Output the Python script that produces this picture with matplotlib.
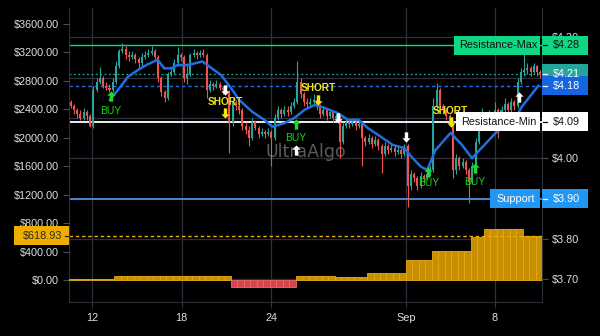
import matplotlib
matplotlib.use('Agg')
import matplotlib.pyplot as plt
import numpy as np
from matplotlib.path import Path
from matplotlib.patches import Rectangle
from matplotlib.lines import Line2D

plt.rcParams['font.family'] = ['Liberation Sans', 'DejaVu Sans']

# price candles (each open is the previous close)
first_open = 4.14
closes = [4.13, 4.12, 4.11, 4.10, 4.115, 4.105, 4.08, 4.17, 4.19, 4.20,
          4.18, 4.175, 4.17, 4.19, 4.23, 4.265, 4.27, 4.255, 4.25, 4.255,
          4.245, 4.235, 4.25, 4.255, 4.26, 4.265, 4.25, 4.20, 4.165, 4.15,
          4.21, 4.215, 4.235, 4.255, 4.25, 4.20, 4.21, 4.255, 4.26, 4.255,
          4.262, 4.255, 4.17, 4.185, 4.18, 4.185, 4.175, 4.17, 4.165, 4.09,
          4.14, 4.13, 4.12, 4.08, 4.07, 4.05, 4.09, 4.075, 4.06, 4.065,
          4.06, 4.065, 4.05, 4.10, 4.12, 4.11, 4.12, 4.115, 4.13, 4.14,
          4.19, 4.16, 4.14, 4.135, 4.14, 4.145, 4.13, 4.11, 4.12, 4.105,
          4.115, 4.10, 4.105, 4.04, 4.08, 4.09, 4.085, 4.09, 4.08, 4.085,
          4.05, 4.04, 4.05, 4.035, 4.045, 4.03, 4.01, 4.03, 4.02, 4.025,
          4.015, 4.02, 4.01, 4.03, 3.93, 3.96, 3.95, 3.93, 3.955, 3.95,
          3.96, 3.97, 4.13, 4.17, 4.13, 4.12, 4.105, 4.09, 3.97, 4.00,
          3.98, 3.99, 3.97, 3.94, 3.98, 4.04, 4.08, 4.10, 4.09, 4.11,
          4.10, 4.12, 4.09, 4.12, 4.135, 4.12, 4.14, 4.13, 4.19, 4.215,
          4.22, 4.225, 4.215, 4.23, 4.215, 4.21]
highs = [4.145, 4.135, 4.125, 4.12, 4.125, 4.12, 4.11, 4.18, 4.20, 4.226,
         4.205, 4.19, 4.185, 4.20, 4.24, 4.27, 4.285, 4.278, 4.265, 4.265,
         4.262, 4.25, 4.26, 4.265, 4.27, 4.278, 4.27, 4.255, 4.205, 4.17,
         4.215, 4.225, 4.245, 4.276, 4.262, 4.255, 4.235, 4.262, 4.27, 4.265,
         4.268, 4.272, 4.26, 4.195, 4.19, 4.195, 4.19, 4.18, 4.178, 4.17,
         4.15, 4.145, 4.135, 4.125, 4.09, 4.08, 4.10, 4.095, 4.08, 4.075,
         4.07, 4.075, 4.07, 4.11, 4.13, 4.125, 4.13, 4.13, 4.14, 4.15,
         4.24, 4.20, 4.165, 4.15, 4.15, 4.16, 4.15, 4.135, 4.13, 4.125,
         4.12, 4.12, 4.115, 4.11, 4.09, 4.10, 4.095, 4.10, 4.095, 4.095,
         4.09, 4.055, 4.06, 4.055, 4.055, 4.05, 4.035, 4.04, 4.035, 4.035,
         4.03, 4.03, 4.025, 4.035, 4.035, 3.97, 3.965, 3.955, 3.965, 3.96,
         3.97, 3.98, 4.15, 4.186, 4.175, 4.135, 4.125, 4.11, 4.095, 4.01,
         4.005, 4.00, 3.995, 3.975, 3.99, 4.05, 4.09, 4.125, 4.11, 4.12,
         4.115, 4.14, 4.125, 4.13, 4.15, 4.14, 4.15, 4.145, 4.20, 4.225,
         4.26, 4.235, 4.23, 4.235, 4.232, 4.22]
lows = [4.125, 4.11, 4.10, 4.095, 4.095, 4.095, 4.077, 4.075, 4.165, 4.185,
        4.175, 4.17, 4.165, 4.165, 4.185, 4.225, 4.26, 4.245, 4.24, 4.245,
        4.235, 4.225, 4.23, 4.245, 4.25, 4.255, 4.245, 4.19, 4.155, 4.14,
        4.145, 4.205, 4.21, 4.23, 4.24, 4.19, 4.185, 4.205, 4.25, 4.245,
        4.25, 4.25, 4.15, 4.165, 4.17, 4.175, 4.17, 4.16, 4.16, 4.013,
        4.08, 4.12, 4.11, 4.07, 4.06, 4.03, 4.045, 4.07, 4.05, 4.055,
        4.05, 4.055, 3.98, 4.045, 4.095, 4.10, 4.105, 4.105, 4.11, 4.125,
        4.135, 4.15, 4.13, 4.125, 4.13, 4.135, 4.12, 4.10, 4.105, 4.095,
        4.10, 4.09, 4.095, 4.00, 4.035, 4.075, 4.075, 4.08, 4.07, 4.075,
        3.98, 4.03, 4.035, 4.025, 4.03, 4.02, 3.963, 4.005, 4.01, 4.015,
        4.005, 4.01, 4.00, 4.005, 3.88, 3.92, 3.94, 3.92, 3.925, 3.94,
        3.945, 3.955, 3.965, 4.12, 4.125, 4.11, 4.095, 4.08, 3.95, 3.96,
        3.97, 3.975, 3.96, 3.89, 3.935, 3.975, 4.035, 4.075, 4.08, 4.085,
        4.09, 4.095, 4.05, 4.085, 4.11, 4.11, 4.115, 4.12, 4.125, 4.185,
        4.205, 4.21, 4.205, 4.21, 4.205, 4.20]

# trend line
ma_idx = [12.0, 14.6, 17.7, 20.8, 23.8, 26.9, 28.9, 31.0, 33.0, 36.1,
          40.7, 42.9, 46.5, 49.6, 52.1, 56.1, 59.8, 62.3, 66.0, 69.1,
          72.2, 75.3, 78.3, 82.5, 85.6, 89.0, 91.7, 95.8, 99.4, 103.0,
          105.6, 108.1, 110.1, 112.6, 117.3, 120.8, 123.9, 125.4, 131.1, 137.3,
          139.3, 144.4]
ma_val = [4.144, 4.169, 4.202, 4.219, 4.233, 4.244, 4.223, 4.223, 4.231, 4.231,
          4.24, 4.227, 4.206, 4.173, 4.144, 4.115, 4.095, 4.078, 4.087, 4.10,
          4.12, 4.132, 4.125, 4.112, 4.095, 4.095, 4.075, 4.053, 4.033, 4.025,
          4.0, 3.979, 3.971, 4.02, 4.063, 4.033, 4.0, 4.013, 4.062, 4.10,
          4.128, 4.18]

# oscillator histogram (level, number of bars at that level)
hist_levels = [8, 56, -98, 56, 42, 98, 281, 408, 605, 717, 618.93]
hist_runs = [7, 18, 10, 6, 5, 6, 4, 6, 2, 6, 3]

# signals
buy_idx = [12.4, 69.6, 110.4, 124.7]
buy_arrow = [4.154, 4.085, 3.966, 3.976]
buy_text = [4.118, 4.05, 3.938, 3.942]
short_idx = [47.7, 76.4, 117.3]
short_arrow = [4.112, 4.144, 4.09]
short_text = [4.14, 4.174, 4.118]
exit_down_idx = [47.7, 82.5, 103.5]
exit_down_val = [4.169, 4.10, 4.053]
exit_up_idx = [69.6, 138.3]
exit_up_val = [4.02, 4.152]

# levels
res_max = 4.28
res_min = 4.09
support = 3.90

x_ticks = [6.6, 34.3, 62.0, 103.5, 130.9]
x_labels = ['12', '18', '24', 'Sep', '8']
price_ticks = [3.70, 3.80, 3.90, 4.00, 4.10, 4.20, 4.30]
price_labels = ['$3.70', '$3.80', '', '$4.00', '', '', '$4.30']

GRID = '#2d3039'
TXT = '#dcdfe6'

fig = plt.figure(figsize=(6, 3.36), dpi=100, facecolor='black')
ax = fig.add_axes([69 / 600, 1 - 302 / 336, 473 / 600, 294 / 336])
ax.set_facecolor('black')
ax2 = ax.twinx()

n = len(closes)
closes = np.array(closes)
opens = np.r_[first_open, closes[:-1]]
idx = np.arange(n)
cols = np.where(closes >= opens, '#26a69a', '#ef5350')
ax.vlines(idx, lows, highs, colors=cols, lw=0.8, zorder=3)
ax.bar(idx, np.maximum(np.abs(closes - opens), 0.002), bottom=np.minimum(opens, closes),
       width=0.62, color=cols, linewidth=0, zorder=3)

ax.plot(ma_idx, ma_val, color='#1f6fe0', lw=1.8, zorder=4, solid_capstyle='round')

# horizontal levels
ax.axhline(res_max, color='#00e676', lw=1.0, zorder=2)
ax.axhline(closes[-1], color='#26a69a', lw=0.9, ls=(0, (1.5, 2)), zorder=2)
ax.axhline(ma_val[-1], color='#1f6fe0', lw=1.0, ls=(0, (2.5, 2)), zorder=2)
ax.axhline(res_min, color='white', lw=1.3, zorder=2)
ax.axhline(support, color='#4a90d9', lw=1.3, zorder=2)

# signal arrows
up = Path([(0, 1), (-0.8, 0.15), (-0.33, 0.15), (-0.33, -1), (0.33, -1),
           (0.33, 0.15), (0.8, 0.15), (0, 1)], closed=True)
down = Path([(0, -1), (-0.8, -0.15), (-0.33, -0.15), (-0.33, 1), (0.33, 1),
             (0.33, -0.15), (0.8, -0.15), (0, -1)], closed=True)
ax.scatter(buy_idx, buy_arrow, marker=up, s=55, color='#1fdc1f', linewidths=0, zorder=6)
ax.scatter(short_idx, short_arrow, marker=down, s=55, color='#f2e60c', linewidths=0, zorder=6)
ax.scatter(exit_down_idx, exit_down_val, marker=down, s=55, color='white', linewidths=0, zorder=6)
ax.scatter(exit_up_idx, exit_up_val, marker=up, s=55, color='white', linewidths=0, zorder=6)
for x, y in zip(buy_idx, buy_text):
    ax.text(x, y, 'BUY', ha='center', va='center', color='#19d119', fontsize=7.5, zorder=6)
for x, y in zip(short_idx, short_text):
    ax.text(x, y, 'SHORT', ha='center', va='center', color='#efe31a', fontsize=7.3,
            fontweight='bold', zorder=6)

ax.text(0.5, 0.51, 'UltraAlgo', transform=ax.transAxes, ha='center', va='center',
        fontsize=12.5, color='#5a5a5a', family='DejaVu Sans', zorder=1)

# histogram on the left scale
hist_vals = np.repeat(hist_levels, hist_runs)
bx = np.arange(len(hist_vals)) * 2 + 0.5
hc = np.where(hist_vals >= 0, '#c89000', '#d9434a')
he = np.where(hist_vals >= 0, '#e6aa14', '#f06a6a')
ax2.bar(bx, hist_vals, width=2, color=hc, edgecolor=he, linewidth=0.6, zorder=2)
ax2.axhline(hist_levels[-1], color='#f0ad00', lw=1.0, ls=(0, (2.5, 2)), zorder=3)

# axes, scales, grid
ax.set_xlim(-0.5, 145.5)
ax.set_ylim(3.6432, 4.3727)
ax2.set_ylim(-309, 3824)
ax.yaxis.tick_right()
ax2.yaxis.tick_left()
ax.set_yticks(price_ticks)
ax.set_yticklabels(price_labels)
lt = np.arange(0, 3601, 400)
ax2.set_yticks(lt)
ax2.set_yticklabels([f'${v:.2f}' for v in lt])
ax.set_xticks(x_ticks)
ax.set_xticklabels(x_labels)
ax.grid(True, color=GRID, lw=0.9)
ax.set_axisbelow(True)
ax.tick_params(axis='y', color='#4a4e59', labelcolor=TXT, length=4, width=0.8,
               labelsize=7.8, pad=3.4)
ax.tick_params(axis='x', color=GRID, labelcolor=TXT, length=4, width=0.8,
               labelsize=7.8, pad=4)
ax2.tick_params(axis='y', color='#4a4e59', labelcolor=TXT, length=4, width=0.8,
                labelsize=7.8, pad=3)
for s in ax.spines.values():
    s.set_color(GRID)
ax.spines['top'].set_visible(False)
for s in ax2.spines.values():
    s.set_visible(False)


def fig_y(axis, val):
    return fig.transFigure.inverted().transform(axis.transData.transform((0, val)))[1]


BOX_H = 19 / 336


def tag(x0, x1, axis, val, text, fc, tc, dash=None):
    y = fig_y(axis, val)
    fig.add_artist(Rectangle((x0 / 600, y - BOX_H / 2), (x1 - x0) / 600, BOX_H,
                             transform=fig.transFigure, facecolor=fc, edgecolor='none', zorder=5))
    if dash is not None:
        fig.add_artist(Line2D([dash[0] / 600, dash[1] / 600], [y, y], color=tc, lw=0.9,
                              transform=fig.transFigure, zorder=6))
    fig.text((x0 + x1) / 2 / 600 + 0.002, y, text, ha='center', va='center', color=tc,
             fontsize=7.8, zorder=7)


tag(454, 540, ax, res_max, 'Resistance-Max', '#0fd784', '#111111')
tag(456, 540, ax, res_min, 'Resistance-Min', 'white', '#111111')
tag(490, 540, ax, support, 'Support', '#2196f3', 'white')
tag(542, 588, ax, res_max, f'${res_max:.2f}', '#0fd784', '#111111', dash=(543, 547))
tag(542, 588, ax, closes[-1], f'${closes[-1]:.2f}', '#26a69a', 'white', dash=(543, 547))
tag(542, 588, ax, ma_val[-1], f'${ma_val[-1]:.2f}', '#1565e0', 'white', dash=(543, 547))
tag(542, 588, ax, res_min, f'${res_min:.2f}', 'white', '#111111', dash=(543, 547))
tag(542, 588, ax, support, f'${support:.2f}', '#2196f3', 'white', dash=(543, 547))
tag(14, 69, ax2, hist_levels[-1], f'${hist_levels[-1]:.2f}', '#f0ad00', '#2a2a2a', dash=(65, 69))

fig.savefig('out.png', dpi=100, facecolor='black')
